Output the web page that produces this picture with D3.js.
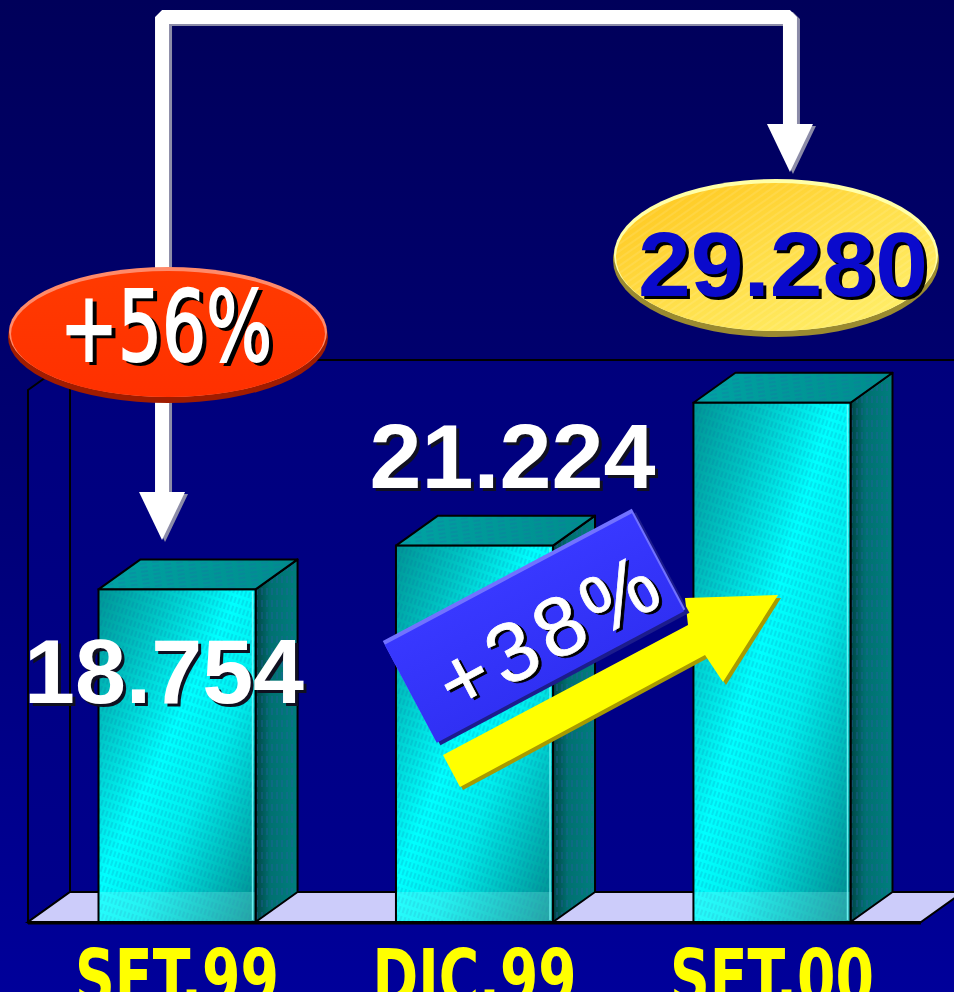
<!DOCTYPE html>
<html>
<head>
<meta charset="utf-8">
<script src="https://cdn.jsdelivr.net/npm/d3@7"></script>
<style>
  html, body { margin: 0; padding: 0; background: #000070; overflow: hidden; }
  svg { display: block; }
</style>
</head>
<body>
<svg id="chart" width="954" height="992"></svg>
<script>
// ---- data ----
const categories = ["SET.99", "DIC.99", "SET.00"];
const values = [18754, 21224, 29280];
const yDomain = [0, 30000];

// ---- layout ----
const W = 954, H = 992;
const depth = { dx: 42, dy: -30 };          // 3D offset of the back plane
const svg = d3.select("#chart");

const x = d3.scaleBand()
  .domain(categories)
  .range([28, 921])
  .paddingInner(0.472)
  .paddingOuter(0.237);

const y = d3.scaleLinear().domain(yDomain).range([922, 390]);

const fmtValue = d3.formatLocale({ decimal: ",", thousands: ".", grouping: [3], currency: ["", ""] }).format(",d");
const fmtGrowth = d3.format("+.0%");
const growthTotal = fmtGrowth(values[2] / values[0] - 1);   // SET.99 -> SET.00
const growthLast  = fmtGrowth(values[2] / values[1] - 1);   // DIC.99 -> SET.00

const FONT = "'Liberation Sans', Arial, 'DejaVu Sans', sans-serif";
const NARROW = "'Liberation Sans Narrow', 'Arial Narrow', 'DejaVu Sans Condensed', 'Liberation Sans', sans-serif";

// ---- defs ----
const defs = svg.append("defs");

function linGrad(id, x1, y1, x2, y2, stops) {
  const g = defs.append("linearGradient").attr("id", id)
    .attr("x1", x1).attr("y1", y1).attr("x2", x2).attr("y2", y2);
  stops.forEach(([o, c]) => g.append("stop").attr("offset", o).attr("stop-color", c));
  return g;
}

linGrad("bgGrad", 0, 0, 0, 1, [[0, "#00005a"], [0.45, "#000072"], [1, "#00009a"]]);
linGrad("wallGrad", 0, 0, 0, 1, [[0, "#00007c"], [1, "#00008c"]]);
linGrad("frontGrad", 0, 0, 1, 1, [[0, "#009494"], [0.22, "#00c4c4"], [0.45, "#00ffff"], [0.62, "#00eeee"], [1, "#008a8a"]]);
linGrad("sideGrad", 0, 0, 1, 0, [[0, "#004545"], [0.35, "#007070"], [1, "#007e7e"]]);
linGrad("topGrad", 0, 0, 1, 0, [[0, "#00a4a4"], [1, "#008c8c"]]);
linGrad("redGrad", 0, 0, 0, 1, [[0, "#ff3a00"], [1, "#ff3000"]]);
linGrad("yellowGrad", 0, 0, 1, 1, [[0, "#ffc418"], [0.5, "#ffdf4a"], [1, "#fff270"]]);
linGrad("blueGrad", 0, 0, 0, 1, [[0, "#3838ff"], [1, "#3030f4"]]);

function pattern(id, w, h, rot, draw) {
  const p = defs.append("pattern").attr("id", id)
    .attr("patternUnits", "userSpaceOnUse")
    .attr("width", w).attr("height", h);
  if (rot) p.attr("patternTransform", `rotate(${rot})`);
  draw(p);
}
// fine slanted hatching on the front faces
pattern("frontHatch", 4, 9, 18, p => {
  p.append("line").attr("x1", 1).attr("y1", 0).attr("x2", 1).attr("y2", 9)
    .attr("stroke", "#0a5a9a").attr("stroke-opacity", 0.32).attr("stroke-width", 1)
    .attr("stroke-dasharray", "6 3");
});
// vertical dashes on the side faces
pattern("sideHatch", 5, 12, 0, p => {
  p.append("line").attr("x1", 2).attr("y1", 0).attr("x2", 2).attr("y2", 12)
    .attr("stroke", "#2a5aa8").attr("stroke-opacity", 0.55).attr("stroke-width", 1.2)
    .attr("stroke-dasharray", "7 5");
});
// horizontal dashes on the top faces
pattern("topHatch", 12, 4, -8, p => {
  p.append("line").attr("x1", 0).attr("y1", 2).attr("x2", 12).attr("y2", 2)
    .attr("stroke", "#1a6aa8").attr("stroke-opacity", 0.5).attr("stroke-width", 1)
    .attr("stroke-dasharray", "7 5");
});
// diagonal stripes on the yellow badge
pattern("badgeStripes", 6, 6, -35, p => {
  p.append("line").attr("x1", 0).attr("y1", 3).attr("x2", 6).attr("y2", 3)
    .attr("stroke", "#ffffff").attr("stroke-opacity", 0.16).attr("stroke-width", 1.2);
});

// ---- background ----
svg.append("rect").attr("width", W).attr("height", H).attr("fill", "url(#bgGrad)");

// ---- walls ----
const x0 = x.range()[0], x1 = x.range()[1];
const yTop = y(yDomain[1]), yBase = y(0);
const { dx, dy } = depth;

// back wall
svg.append("rect")
  .attr("x", x0 + dx).attr("y", yTop + dy)
  .attr("width", W - (x0 + dx) + 20).attr("height", yBase - yTop)
  .attr("fill", "url(#wallGrad)").attr("stroke", "#000").attr("stroke-width", 2);

// left side wall
svg.append("polygon")
  .attr("points", [[x0, yTop], [x0 + dx, yTop + dy], [x0 + dx, yBase + dy], [x0, yBase]].join(" "))
  .attr("fill", "url(#wallGrad)").attr("stroke", "#000").attr("stroke-width", 2);

// floor
svg.append("polygon")
  .attr("points", [[x0, yBase], [x0 + dx, yBase + dy], [x1 + dx, yBase + dy], [x1, yBase]].join(" "))
  .attr("fill", "#ccccfa").attr("stroke", "#000").attr("stroke-width", 2);
svg.append("line")
  .attr("x1", x0).attr("x2", x1).attr("y1", yBase + 1).attr("y2", yBase + 1)
  .attr("stroke", "#000").attr("stroke-width", 3);

// ---- bars ----
const data = categories.map((c, i) => ({ cat: c, value: values[i] }));
const bw = x.bandwidth();

const bars = svg.append("g").selectAll("g.bar").data(data).join("g").attr("class", "bar");

bars.each(function (d) {
  const g = d3.select(this);
  const bx = x(d.cat), by = y(d.value), bh = yBase - by;

  const side = [[bx + bw, by], [bx + bw + dx, by + dy], [bx + bw + dx, yBase + dy], [bx + bw, yBase]].join(" ");
  const top = [[bx, by], [bx + dx, by + dy], [bx + bw + dx, by + dy], [bx + bw, by]].join(" ");

  g.append("polygon").attr("points", side).attr("fill", "url(#sideGrad)");
  g.append("polygon").attr("points", side).attr("fill", "url(#sideHatch)")
    .attr("stroke", "#000").attr("stroke-width", 2).attr("stroke-linejoin", "round");

  g.append("polygon").attr("points", top).attr("fill", "url(#topGrad)");
  g.append("polygon").attr("points", top).attr("fill", "url(#topHatch)")
    .attr("stroke", "#000").attr("stroke-width", 2).attr("stroke-linejoin", "round");

  g.append("rect").attr("x", bx).attr("y", by).attr("width", bw).attr("height", bh)
    .attr("fill", "url(#frontGrad)");
  g.append("rect").attr("x", bx).attr("y", by).attr("width", bw).attr("height", bh)
    .attr("fill", "url(#frontHatch)");
  // lighter strip where the front face sits in front of the floor
  g.append("rect").attr("x", bx).attr("y", yBase + dy).attr("width", bw).attr("height", -dy)
    .attr("fill", "#aaffff").attr("fill-opacity", 0.22);
  // thin light rim along the right edge of the front face
  g.append("line").attr("x1", bx + bw - 3).attr("x2", bx + bw - 3).attr("y1", by + 2).attr("y2", yBase - 2)
    .attr("stroke", "#7fffff").attr("stroke-width", 1.5).attr("stroke-opacity", 0.8);
  g.append("rect").attr("x", bx).attr("y", by).attr("width", bw).attr("height", bh)
    .attr("fill", "none").attr("stroke", "#000").attr("stroke-width", 2);
});

// ---- category labels ----
svg.append("g").selectAll("text").data(data).join("text")
  .attr("x", d => x(d.cat) + bw / 2)
  .attr("y", 1004)
  .attr("text-anchor", "middle")
  .attr("font-family", NARROW)
  .attr("font-weight", "bold")
  .attr("font-size", 76)
  .attr("textLength", 204)
  .attr("lengthAdjust", "spacingAndGlyphs")
  .attr("fill", "#ffff00")
  .text(d => d.cat);

// ---- connector arrow SET.99 -> SET.00 ----
const cxL = x(categories[0]) + bw / 2 - 15;      // left shaft
const cxR = x(categories[2]) + bw / 2 + 18;      // right shaft
const cyTop = 17;
const headL = 492, headR = 124, headLen = 48, headHalf = 23;

function connector(g, color, strokeW) {
  g.append("path")
    .attr("d", `M${cxL},${headL + 2} V${cyTop} H${cxR} V${headR + 2}`)
    .attr("fill", "none").attr("stroke", color).attr("stroke-width", strokeW)
    .attr("stroke-linejoin", "bevel");
  [[cxL, headL], [cxR, headR]].forEach(([hx, hy]) => {
    g.append("polygon")
      .attr("points", [[hx - headHalf, hy], [hx + headHalf, hy], [hx, hy + headLen]].join(" "))
      .attr("fill", color);
  });
}
connector(svg.append("g").attr("transform", "translate(3,2)"), "#8c8ca8", 14);
connector(svg.append("g"), "#ffffff", 14);

// ---- badge helper: ellipse with light upper rim and dark lower rim ----
function badge(cx, cy, rx, ry, fill, light, dark, overlay) {
  const g = svg.append("g");
  g.append("ellipse").attr("cx", cx).attr("cy", cy + 3).attr("rx", rx).attr("ry", ry).attr("fill", dark);
  g.append("ellipse").attr("cx", cx).attr("cy", cy - 2).attr("rx", rx - 1).attr("ry", ry - 1).attr("fill", light);
  g.append("ellipse").attr("cx", cx).attr("cy", cy).attr("rx", rx - 3).attr("ry", ry - 3).attr("fill", fill);
  if (overlay) g.append("ellipse").attr("cx", cx).attr("cy", cy).attr("rx", rx - 3).attr("ry", ry - 3).attr("fill", overlay);
  return g;
}

function shadowText(g, txt, tx, ty, opts) {
  const base = sel => sel
    .attr("text-anchor", "middle")
    .attr("font-family", opts.family)
    .attr("font-weight", opts.weight || "normal")
    .attr("font-size", opts.size)
    .text(txt);
  const s = g.append("text").attr("x", tx + opts.sx).attr("y", ty + opts.sy).attr("fill", opts.shadow).call(base);
  const m = g.append("text").attr("x", tx).attr("y", ty).attr("fill", opts.fill).call(base);
  if (opts.len) {
    [s, m].forEach(t => t.attr("textLength", opts.len).attr("lengthAdjust", opts.adjust || "spacingAndGlyphs"));
  }
  if (opts.thick) {
    s.attr("stroke", opts.shadow).attr("stroke-width", opts.thick);
    m.attr("stroke", opts.fill).attr("stroke-width", opts.thick);
  }
}

// red badge with total growth
const red = badge(168, 334, 160, 66, "url(#redGrad)", "#ff8a6a", "#a01c00");
shadowText(red, growthTotal, 166, 361, {
  family: NARROW, size: 98, fill: "#ffffff", shadow: "#000000", sx: 4, sy: 3, len: 212, thick: 2
});

// yellow badge with last value
const yel = badge(776, 257, 163, 77, "url(#yellowGrad)", "#ffffa8", "#9a8a30", "url(#badgeStripes)");
shadowText(yel, fmtValue(values[2]), 783, 296, {
  family: FONT, weight: "bold", size: 90, fill: "#0a0acc", shadow: "#000000", sx: 3, sy: 3, len: 290
});

// ---- value labels for the first two bars ----
const lbl = svg.append("g");
shadowText(lbl, fmtValue(values[0]), x(categories[0]) + bw / 2 - 13, 703, {
  family: FONT, weight: "bold", size: 90, fill: "#ffffff", shadow: "#101020", sx: 3, sy: 3, len: 280
});
shadowText(lbl, fmtValue(values[1]), x(categories[1]) + bw / 2 + 38, 488, {
  family: FONT, weight: "bold", size: 90, fill: "#ffffff", shadow: "#101020", sx: 3, sy: 3, len: 286
});

// ---- rising yellow arrow DIC.99 -> SET.00 ----
const arrowPts = [[443, 755], [688, 625], [685, 598], [778, 595], [723, 682], [705, 655], [460, 787]];
svg.append("polygon").attr("points", arrowPts.map(p => [p[0] + 3, p[1] + 3]).join(" ")).attr("fill", "#a89a00");
svg.append("polygon").attr("points", arrowPts.join(" ")).attr("fill", "#ffff00");

// ---- tilted blue tag with last-period growth ----
const tag = svg.append("g").attr("transform", "translate(535,627) rotate(-28)");
const tw = 282, th = 114;
tag.append("rect").attr("x", -tw / 2 + 2).attr("y", -th / 2 + 3).attr("width", tw).attr("height", th).attr("fill", "#1c1c8c");
tag.append("rect").attr("x", -tw / 2).attr("y", -th / 2 - 2).attr("width", tw).attr("height", th).attr("fill", "#7272ff");
tag.append("rect").attr("x", -tw / 2).attr("y", -th / 2 + 2).attr("width", tw - 2).attr("height", th - 3).attr("fill", "url(#blueGrad)");
shadowText(tag, growthLast, 8, 40, {
  family: FONT, size: 84, fill: "#ffffff", shadow: "#000000", sx: 2, sy: 3, len: 238, adjust: "spacing", thick: 0.8
});
</script>
</body>
</html>
